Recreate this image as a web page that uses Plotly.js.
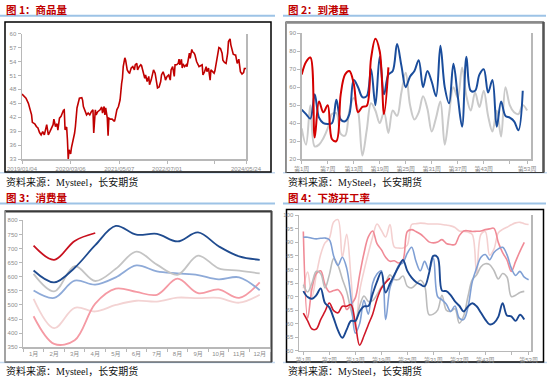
<!DOCTYPE html>
<html><head><meta charset="utf-8">
<script src="https://cdn.plot.ly/plotly-3.0.1.min.js"></script>
<style>html,body{margin:0;padding:0;background:#fff;} #chart{width:550px;height:377px;}</style>
</head><body><div id="chart"></div>
<script>
// ---------- Panel 1: 商品量 (weekly, index from 2019/01/04) ----------
const p1Weeks = [0,3,5,8,10,12,13,16,18,20,22,24,26,28,31,33,35,37,39,40,42,44,45,47,49,52,53,54,56,57,58,59,61,62,64,66,67,69,71,72,75,76,77,79,81,83,85,87,89,90,92,93,95,98,100,101,103,104,105,107,108,109,111,113,116,117,119,121,123,125,126,127,129,130,132,134,135,137,139,141,142,144,145,147,149,150,152,154,155,157,159,160,162,164,165,167,169,170,172,174,175,177,179,180,182,184,186,187,189,191,192,194,196,197,198,200,201,202,204,206,207,209,210,211,213,214,216,217,219,221,222,224,226,227,229,231,232,234,236,237,239,241,242,244,246,247,249,251,252,254,256,258,259,261,262,263,265,267,268,270,272,273,274,276,278,279,281];
const p1Values = [47.0,46.5,46.1,45.0,43.6,42.5,40.9,40.6,40.0,39.7,38.7,38.2,38.9,38.2,40.4,38.2,38.9,39.7,40.4,41.6,40.0,40.6,39.2,41.8,42.2,43.5,43.6,39.3,39.9,37.1,33.0,35.0,34.1,35.4,36.8,38.6,40.0,44.0,45.4,46.1,46.2,45.7,44.3,43.2,42.5,42.9,42.5,43.2,43.6,38.6,43.6,42.5,43.2,43.6,44.2,42.9,44.3,42.5,44.0,41.8,38.0,41.8,41.6,41.6,41.1,41.8,43.6,44.3,45.7,49.3,50.4,52.9,54.8,54.3,52.2,51.6,51.5,52.6,52.9,52.2,53.3,53.6,52.2,52.9,53.3,53.1,51.8,50.4,51.1,49.7,50.8,49.0,50.0,51.8,52.2,51.5,49.3,48.3,48.5,49.7,51.1,51.8,50.8,50.0,50.8,51.1,50.0,52.2,52.9,50.8,53.3,53.3,53.6,54.5,53.3,54.5,52.6,53.5,52.9,53.3,52.9,55.1,55.8,54.7,56.6,56.1,55.8,55.4,54.0,53.3,52.9,53.1,53.3,51.1,51.8,52.9,51.8,52.6,50.0,52.2,51.8,51.5,52.0,54.3,56.8,57.0,56.8,55.8,54.3,53.8,53.6,55.8,58.3,58.9,57.6,56.8,55.6,55.4,55.4,53.6,54.5,53.1,51.8,51.3,51.6,52.5,52.5];
const p1TickVals = [0,61,122,182,241,281];
const p1TickText = ['2019/01/04','2020/03/06','2021/05/07','2022/07/01','','2024/05/24'];

// ---------- Panel 2: 到港量 (weeks 1..53) ----------
const p2Red  = [67,74,76.5,32,52,46,50,31,30,56,67,69,62,46,49,49.6,76,87,80,45,71];
const p2Blue = [47.5,45,42.5,56,43,40,39.5,40,53,42,41,45,64,60,54.5,55,70,50,77,56,67,69,84,72,60,66,69,75,60,69,63,55,83,60,51,73,55,38,77,58,58,67,70,57,64,38,52,44,43,41,36,58];
const p2Gray = [37,28,50,27,28,31.6,37,45,45.5,34,33,47,54,47,22,36,51,47,40,46,34.5,47,44,57,68,50,42,46,55,48,35.3,43,52,28,45,60,54,71,55,47,57,49,58,44,35.3,47,32.5,60,50,46,45,50,47];
const weekTickVals = [1,7,13,19,25,31,37,43,49,53];
const weekTickText = ['第1周','第7周','第13周','第19周','第25周','第31周','第37周','第43周','','第53周'];

// ---------- Panel 3: 消费量 (months) ----------
const months = ['1月','2月','3月','4月','5月','6月','7月','8月','9月','10月','11月','12月'];
const c2024 = [710,660,727,755];
const c2023 = [622,580,632,712,780,749,752,725,757,708,672,660];
const c2022 = [610,548,638,585,628,689,643,607,675,630,622,612];
const c2021 = [551,525,586,572,598,640,619,612,606,591,598,552];
const c2020 = [460,362,375,505,558,546,536,593,542,555,525,580];
const c2019 = [522,418,490,477,500,515,512,526,524,525,508,536];

// ---------- Panel 4: 下游开工率 (weeks) ----------
const r4  = [63.9,61,58,58,61.5,64.5,67.6,64.8,64,66.4,66.4,67,60,52,55.5,59.6,63.5,69,73,75.2,76.8];
const d4  = [72,69.8,69.2,70.5,73,67.6,66,62,57.5,54.8,57.8,61,61,64.5,66.4,66.5,71,75.5,79,71.5,74.8,78,81,83.5,79.5,77,75.4,74.5,73.8,78.5,85,84.5,72.2,72,70.5,68.2,66.6,64.5,66.3,67.5,66.4,64,61.5,59.7,60.2,62.5,67.5,63,62.7,61,63.3,61.5];
const m4  = [91.9,91.9,91.5,91.3,91.5,91.6,91,85,81.5,84.5,80.5,69.5,56.5,60,68.6,63.5,74.8,78.3,79.5,61.5,73.2,77.5,81.5,82.5,86,88.2,83,79.5,83,79.8,84.2,70,68.8,67.2,64.5,66.5,62,61.5,66,75.5,80.5,84.5,85.5,83.6,86.3,87.6,88.2,85.5,80.5,77.8,79.3,77.2,76.2];
const g4  = [74.4,71.7,75,79.3,78.5,73.2,78,84,81.5,76.5,71.9,65,60.5,66.5,70.2,68.2,68.5,70.7,73.5,75.3,78,76.3,76.3,77.6,73.8,73.2,74.5,76,74,63.3,63.5,65,70.5,65,64.5,65.5,60.2,62.8,70,76.2,78,81,82.1,81.8,79.6,76.5,78.5,77.2,70,70.5,71.5,71.9];
const p4  = [94,62,73,78.5,79.5,74.4,71.7,72.2,72.5,70.3,65.2,67,69.5,78,86,92,94.2,89.5,87.3,84.5,83,83.2,82.4,83.5,94,94.7,94,93.1,91.7,90.2,89.8,90.1,91,89.6,89.2,89.2,92.5,94.2,94.3,94,94.1,94.2,94.7,95,95.2,90,86.2,83.5,79.3,83,86.7,90];
const lp4 = [73,79,70,78,85.5,89.8,91.5,97.5,98.4,84.5,93,77,58,72,79.5,86,92,96.8,94.5,92,96.6,88.3,87.9,87.9,89,96.6,96.9,97.1,97,96.8,96.8,96.8,96.6,96.4,96.1,95.5,94.2,94.1,93.8,92.9,78.5,93,94,85.3,87.5,93.5,94.8,95.6,96.5,97.2,97.4,96.9,96.6];

// ---------- Texts ----------
const titleTexts = ['图 1：商品量','图 2：到港量','图 3：消费量','图 4：下游开工率'];
const sourceTexts = ['资料来源：Mysteel，长安期货','资料来源：MySteel，长安期货','资料来源：Mysteel，长安期货','资料来源：MySteel，长安期货'];

// ---------- helpers ----------
const W = 550, H = 377;
const fx = p => p / W;
const fy = p => 1 - p / H;
const weeksOf = arr => arr.map((_, i) => i + 1);
const TICKFONT = 'Liberation Sans, Arial, Noto Sans CJK SC, sans-serif';

function axis(extra) {
  return Object.assign({
    showline: true, linecolor: '#b8b8b8', linewidth: 1.5,
    ticks: 'outside', ticklen: 3, tickwidth: 1, tickcolor: '#b8b8b8',
    tickfont: {size: 6, color: '#8c8c8c', family: TICKFONT},
    tickangle: 0,
    showgrid: false, zeroline: false, fixedrange: true
  }, extra);
}
function sline(color, width) { return {color: color, width: width, shape: 'spline', smoothing: 1}; }

const traces = [
  {x: p1Weeks, y: p1Values, xaxis: 'x', yaxis: 'y', mode: 'lines', line: {color: '#c00000', width: 1.6}},

  {x: weeksOf(p2Gray), y: p2Gray, xaxis: 'x2', yaxis: 'y2', mode: 'lines', line: sline('#cacaca', 2)},
  {x: weeksOf(p2Blue), y: p2Blue, xaxis: 'x2', yaxis: 'y2', mode: 'lines', line: sline('#1a4d9c', 2)},
  {x: weeksOf(p2Red),  y: p2Red,  xaxis: 'x2', yaxis: 'y2', mode: 'lines', line: sline('#d40000', 2)},

  {x: months, y: c2019, xaxis: 'x3', yaxis: 'y3', mode: 'lines', line: sline('#f3d3d3', 1.8)},
  {x: months, y: c2020, xaxis: 'x3', yaxis: 'y3', mode: 'lines', line: sline('#f59aa4', 1.8)},
  {x: months, y: c2021, xaxis: 'x3', yaxis: 'y3', mode: 'lines', line: sline('#8eaad8', 1.8)},
  {x: months, y: c2022, xaxis: 'x3', yaxis: 'y3', mode: 'lines', line: sline('#c4c4c4', 1.8)},
  {x: months, y: c2023, xaxis: 'x3', yaxis: 'y3', mode: 'lines', line: sline('#1f4b8f', 1.8)},
  {x: months.slice(0, c2024.length), y: c2024, xaxis: 'x3', yaxis: 'y3', mode: 'lines', line: sline('#c8101e', 1.8)},

  {x: weeksOf(lp4), y: lp4, xaxis: 'x4', yaxis: 'y4', mode: 'lines', line: sline('#f4d0d0', 1.6)},
  {x: weeksOf(p4),  y: p4,  xaxis: 'x4', yaxis: 'y4', mode: 'lines', line: sline('#f08a96', 1.6)},
  {x: weeksOf(g4),  y: g4,  xaxis: 'x4', yaxis: 'y4', mode: 'lines', line: sline('#bcbcbc', 1.6)},
  {x: weeksOf(m4),  y: m4,  xaxis: 'x4', yaxis: 'y4', mode: 'lines', line: sline('#7f9fd4', 1.6)},
  {x: weeksOf(r4),  y: r4,  xaxis: 'x4', yaxis: 'y4', mode: 'lines', line: sline('#d01828', 1.6)},
  {x: weeksOf(d4),  y: d4,  xaxis: 'x4', yaxis: 'y4', mode: 'lines', line: sline('#1a4791', 1.9)}
];

function hline(x0, x1, y, color, width) {
  return {type: 'line', xref: 'paper', yref: 'paper', x0: fx(x0), x1: fx(x1), y0: fy(y), y1: fy(y), line: {color: color, width: width}, layer: 'below'};
}
function vline(x, y0, y1, color, width) {
  return {type: 'line', xref: 'paper', yref: 'paper', x0: fx(x), x1: fx(x), y0: fy(y0), y1: fy(y1), line: {color: color, width: width}, layer: 'below'};
}
function box(x0, y0, x1, y1, color, width) {
  return {type: 'rect', xref: 'paper', yref: 'paper', x0: fx(x0), x1: fx(x1), y0: fy(y1), y1: fy(y0), line: {color: color, width: width}, fillcolor: '#ffffff', layer: 'below'};
}

const BLUE = '#9dc3e6';
const shapes = [
  // title underlines
  hline(0, 275, 15.8, BLUE, 2), hline(283, 546, 15.8, BLUE, 2),
  hline(0, 275, 203.5, BLUE, 2), hline(283, 546, 203.5, BLUE, 2),
  // faint bottom rules
  hline(0, 275, 172.8, '#c5daf0', 1.5), hline(283, 547, 172.8, '#c5daf0', 1.5),
  hline(0, 275, 362.5, '#c5daf0', 1.5), hline(283, 547, 362.5, '#c5daf0', 1.5),
  // frames
  box(5, 22, 271, 172, '#000000', 1.5),
  box(286, 22, 543.5, 172.5, '#3a3a3a', 1.2),
  hline(286, 543.5, 22.5, '#8a8a8a', 2.5), vline(286.3, 22, 172.5, '#9a9a9a', 1), vline(543.5, 22, 172.5, '#555555', 2.5),
  box(5, 211, 271.5, 362, '#2a2a2a', 1.2),
  hline(5, 271.5, 211.5, '#3a3a3a', 2), vline(5, 211, 362, '#c8c8c8', 1), vline(271.5, 211, 362, '#444444', 2),
  box(286.5, 209.5, 543.5, 362, '#000000', 1.5)
];

const annotations = [];
const titlePos = [[4, 9.5], [286, 9.5], [4, 197.5], [286, 197.5]];
const srcPos = [[4, 182], [286, 182], [4, 371], [286, 371]];
titleTexts.forEach((t, i) => annotations.push({
  text: '<b>' + t + '</b>', xref: 'paper', yref: 'paper', x: fx(titlePos[i][0]), y: fy(titlePos[i][1]),
  xanchor: 'left', yanchor: 'middle', showarrow: false,
  font: {family: 'Noto Sans CJK SC, sans-serif', size: 10.5, color: '#c00000'}
}));
sourceTexts.forEach((t, i) => annotations.push({
  text: t, xref: 'paper', yref: 'paper', x: fx(srcPos[i][0]), y: fy(srcPos[i][1]),
  xanchor: 'left', yanchor: 'middle', showarrow: false,
  font: {family: 'Liberation Serif, Noto Sans CJK SC, serif', size: 10, color: '#111111'}
}));

const layout = {
  width: W, height: H,
  margin: {l: 0, r: 0, t: 0, b: 0, pad: 0},
  paper_bgcolor: '#ffffff', plot_bgcolor: 'rgba(0,0,0,0)',
  showlegend: false,
  xaxis: axis({domain: [fx(22), fx(246)], range: [0, 281], anchor: 'y', tickmode: 'array', tickvals: p1TickVals, ticktext: p1TickText}),
  yaxis: axis({domain: [fy(159), fy(33.7)], range: [33, 60], dtick: 3, tick0: 33, anchor: 'x', mirror: true}),
  xaxis2: axis({domain: [fx(301.7), fx(531)], range: [1, 53.9], anchor: 'y2', tickmode: 'array', tickvals: weekTickVals, ticktext: weekTickText}),
  yaxis2: axis({domain: [fy(159), fy(33.3)], range: [20, 90], dtick: 10, tick0: 20, anchor: 'x2', mirror: true}),
  xaxis3: axis({domain: [fx(23.3), fx(270)], type: 'category', categoryorder: 'array', categoryarray: months, range: [-0.5, 11.5], tickson: 'boundaries', anchor: 'y3'}),
  yaxis3: axis({domain: [fy(347.3), fy(220.3)], range: [350, 800], dtick: 50, tick0: 350, anchor: 'x3'}),
  xaxis4: axis({domain: [fx(299), fx(531)], range: [0, 53.55], anchor: 'y4', tickmode: 'array', tickvals: weekTickVals, ticktext: weekTickText}),
  yaxis4: axis({domain: [fy(350.7), fy(215.3)], range: [50, 100], dtick: 5, tick0: 50, anchor: 'x4', mirror: true}),
  shapes: shapes,
  annotations: annotations
};

Plotly.newPlot('chart', traces, layout, {staticPlot: true, displayModeBar: false});
</script></body></html>
